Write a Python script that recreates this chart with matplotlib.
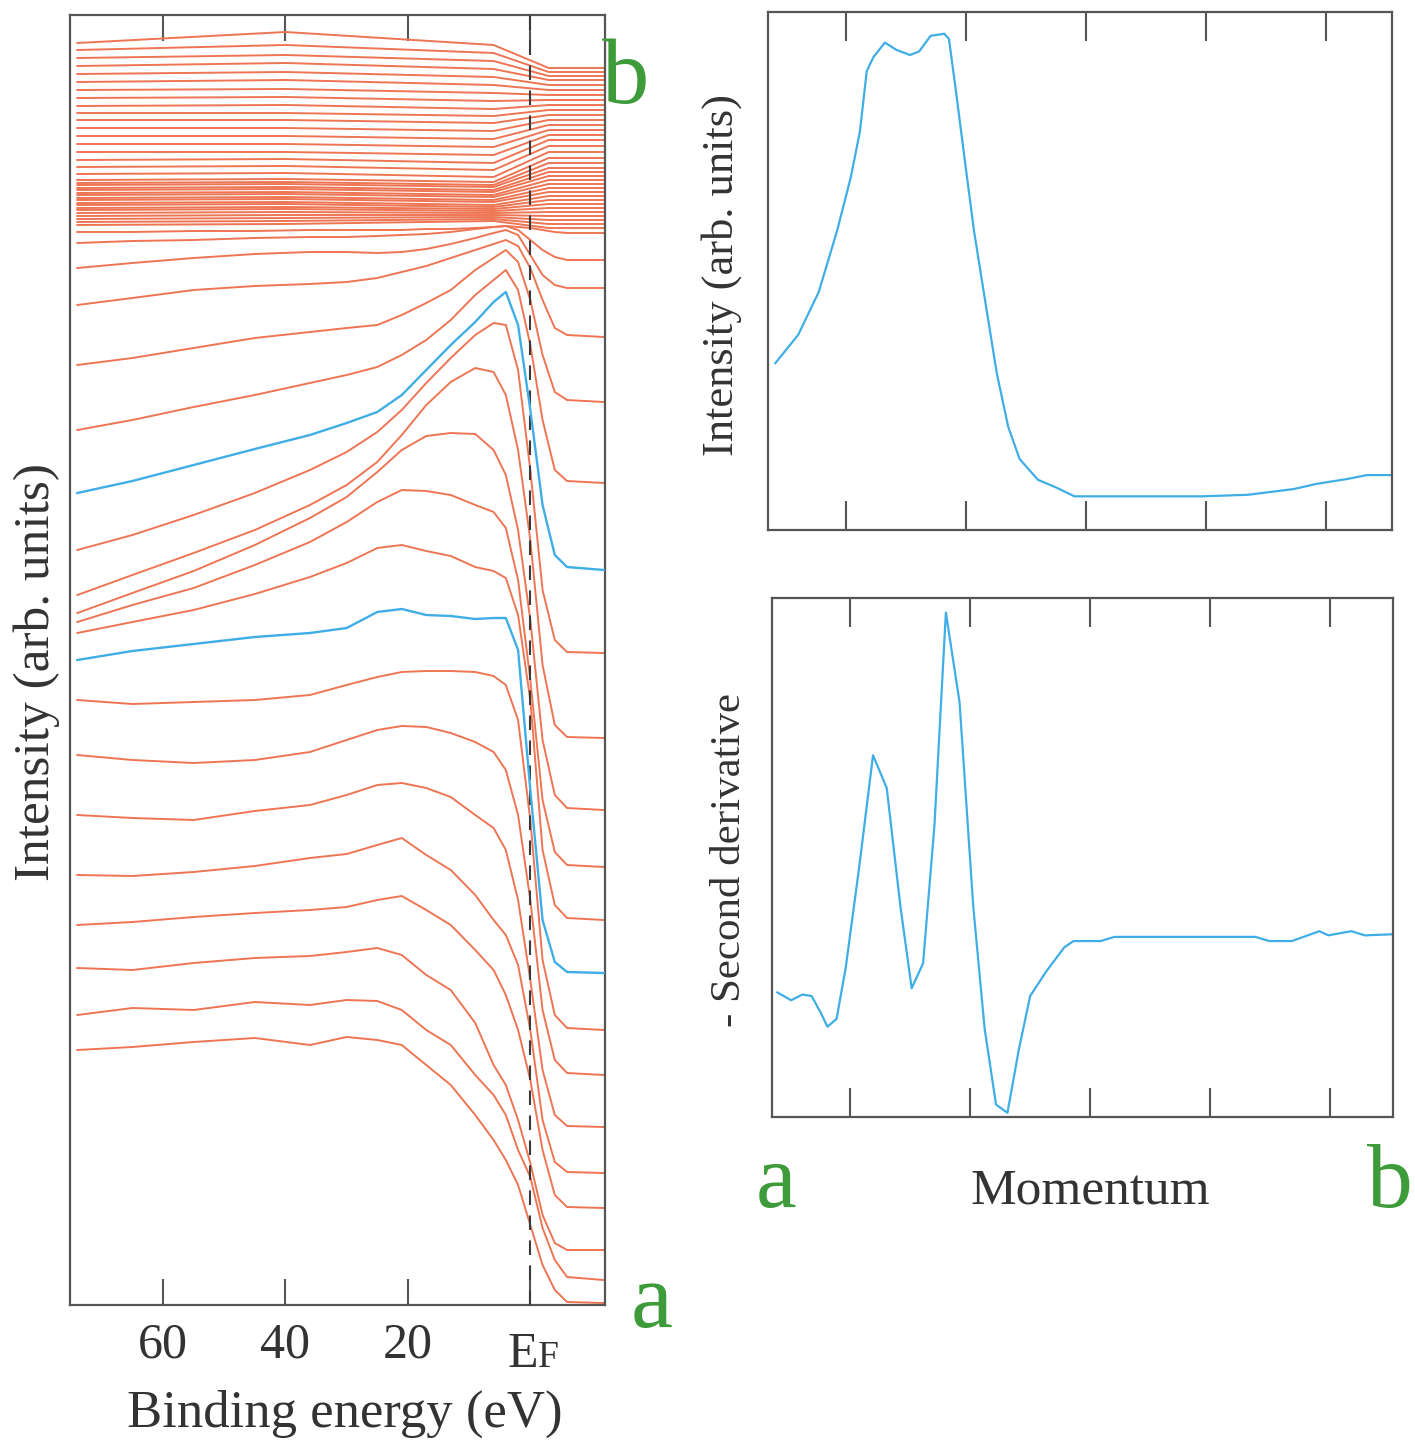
import matplotlib.pyplot as plt

plt.rcParams['font.family'] = ['Liberation Serif', 'DejaVu Serif']

RED = '#ee7553'
BLUE = '#40aee6'
GREEN = '#3e9b3a'
AXC = '#555555'
TXT = '#333333'

# --- left panel: energy distribution curves ---
energy = [74, 65, 55, 45, 36, 30, 25, 21, 17, 13, 9, 6, 4, 2, 0, -2, -4, -6, -12]

edc_01 = [25.5, 25.8, 26.3, 26.7, 26.0, 26.8, 26.5, 26.0, 24.0, 22.0, 19.0, 16.5, 14.5, 12.0, 8.0, 4.0, 1.5, 0.3, 0.2]
edc_02 = [29.0, 29.7, 29.5, 30.3, 30.0, 30.5, 30.4, 29.5, 27.5, 26.0, 23.0, 21.0, 19.0, 15.5, 12.8, 7.7, 4.5, 2.8, 2.5]
edc_03 = [33.7, 33.5, 34.2, 34.7, 34.9, 35.3, 35.7, 35.0, 33.0, 31.5, 28.2, 24.0, 22.0, 18.5, 14.2, 9.0, 6.2, 5.5, 5.5]
edc_04 = [38.0, 38.3, 38.8, 39.2, 39.5, 39.8, 40.5, 40.9, 39.5, 38.0, 35.5, 33.5, 31.0, 27.5, 22.5, 15.5, 11.0, 9.8, 9.7]
edc_05 = [43.0, 42.9, 43.3, 43.9, 44.7, 45.1, 46.0, 46.7, 45.0, 43.5, 41.0, 38.5, 37.0, 34.0, 27.5, 18.5, 14.3, 13.3, 13.2]
edc_06 = [49.0, 48.7, 48.5, 49.4, 50.0, 51.0, 52.0, 52.2, 51.7, 50.8, 49.0, 47.7, 45.5, 40.5, 32.5, 23.5, 19.0, 17.9, 17.8]
edc_07 = [55.0, 54.5, 54.2, 54.5, 55.3, 56.5, 57.5, 57.9, 57.8, 57.2, 56.3, 55.3, 53.5, 49.0, 40.5, 29.5, 24.5, 23.2, 23.0]
edc_08 = [60.5, 60.1, 60.3, 60.5, 61.0, 62.0, 62.8, 63.3, 63.4, 63.4, 63.3, 62.9, 62.0, 58.5, 48.5, 34.5, 29.0, 27.7, 27.5]
edc_blue_a = [64.5, 65.4, 66.1, 66.8, 67.2, 67.7, 69.3, 69.6, 69.0, 68.9, 68.6, 68.7, 68.7, 65.5, 51.5, 38.5, 34.3, 33.3, 33.2]
edc_09 = [67.2, 68.3, 69.5, 71.1, 72.8, 74.2, 75.7, 76.0, 75.4, 74.9, 73.8, 73.4, 72.7, 69.0, 60.5, 45.5, 40.0, 38.7, 38.5]
edc_10 = [68.3, 70.0, 71.7, 74.0, 76.3, 78.3, 80.3, 81.5, 81.4, 81.0, 80.0, 79.3, 77.7, 72.5, 62.5, 50.5, 45.3, 44.0, 43.8]
edc_11 = [69.2, 71.2, 73.4, 76.0, 78.7, 80.8, 83.3, 85.5, 86.9, 87.2, 87.1, 85.5, 83.0, 77.5, 68.5, 56.5, 51.0, 49.7, 49.5]
edc_12 = [71.0, 73.0, 75.2, 77.5, 80.0, 82.0, 84.3, 87.0, 90.0, 92.3, 93.7, 93.3, 91.0, 85.5, 76.5, 64.0, 58.0, 56.8, 56.7]
edc_13 = [75.5, 77.0, 79.0, 81.2, 83.5, 85.3, 87.3, 89.5, 92.2, 94.7, 97.0, 98.2, 98.0, 93.5, 83.5, 71.5, 66.5, 65.3, 65.2]
edc_blue_b = [81.2, 82.4, 84.0, 85.6, 87.0, 88.2, 89.3, 91.0, 93.5, 96.0, 98.3, 100.3, 101.3, 98.0, 89.5, 80.0, 75.0, 73.8, 73.5]
edc_14 = [87.5, 88.5, 89.8, 91.0, 92.2, 93.0, 93.8, 95.0, 96.5, 98.5, 101.0, 102.5, 103.5, 101.5, 96.0, 88.5, 83.5, 82.4, 82.2]
edc_15 = [94.0, 94.7, 95.7, 96.7, 97.3, 97.7, 98.0, 99.0, 100.2, 101.5, 103.5, 104.7, 105.5, 104.3, 100.5, 95.0, 91.3, 90.5, 90.3]
edc_16 = [100.0, 100.7, 101.5, 101.9, 102.1, 102.3, 102.7, 103.3, 103.9, 104.7, 105.5, 106.1, 106.5, 105.9, 103.7, 100.5, 97.7, 97.0, 96.8]
edc_17 = [103.7, 104.2, 104.7, 105.1, 105.3, 105.3, 105.2, 105.3, 105.6, 106.1, 106.7, 107.2, 107.5, 107.0, 105.0, 103.0, 102.0, 101.7, 101.7]
edc_18 = [106.2, 106.4, 106.5, 106.7, 106.8, 106.8, 106.9, 107.0, 107.1, 107.3, 107.6, 107.8, 107.9, 107.5, 106.5, 105.5, 104.8, 104.5, 104.5]
edc_19 = [107.3, 107.3, 107.4, 107.4, 107.5, 107.5, 107.5, 107.5, 107.6, 107.6, 107.7, 107.8, 107.9, 107.8, 107.7, 107.5, 107.3, 107.2, 107.2]

red_edcs = [edc_01, edc_02, edc_03, edc_04, edc_05, edc_06, edc_07, edc_08,
            edc_09, edc_10, edc_11, edc_12, edc_13,
            edc_14, edc_15, edc_16, edc_17, edc_18, edc_19]
blue_edcs = [edc_blue_a, edc_blue_b]

# dense bundle near "b": level at 74 eV, 40 eV, 6 eV and past E_F
band_energy = [74, 40, 6, -3, -12]
band_left = [126.2, 125.5, 124.7, 123.9, 123.1, 122.3, 121.5, 120.7, 119.9, 119.2, 118.5, 117.7,
             116.9, 116.1, 115.3, 114.5, 113.8, 113.1, 112.5, 112.2, 112.0, 111.7, 111.5, 111.2,
             111.0, 110.7, 110.5, 110.2, 110.0, 109.7, 109.5, 109.2, 108.9, 108.6, 108.3, 108.0]
band_hump = [127.3, 126.0, 125.0, 124.2, 123.3, 122.5, 121.6, 120.8, 120.0, 119.2, 118.5, 117.7,
             116.9, 116.1, 115.3, 114.6, 113.9, 113.2, 112.6, 112.3, 112.1, 111.8, 111.6, 111.3,
             111.1, 110.8, 110.6, 110.3, 110.1, 109.8, 109.6, 109.3, 109.0, 108.7, 108.4, 108.1]
band_mid = [126.0, 125.2, 124.4, 123.6, 122.8, 122.0, 121.2, 120.4, 119.6, 118.9, 118.2, 117.4,
            116.6, 115.8, 115.0, 114.2, 113.5, 112.8, 112.3, 112.0, 111.8, 111.5, 111.3, 111.0,
            110.8, 110.5, 110.3, 110.0, 109.8, 109.6, 109.4, 109.2, 109.0, 108.8, 108.6, 108.4]
band_right = [123.7, 123.3, 122.9, 122.5, 122.0, 121.5, 121.0, 120.5, 120.0, 119.5, 119.0, 118.5,
              118.0, 117.5, 117.0, 116.5, 115.9, 115.3, 114.7, 114.2, 113.7, 113.3, 112.9, 112.5,
              112.1, 111.7, 111.3, 110.9, 110.5, 110.1, 109.7, 109.3, 108.9, 108.5, 108.1, 107.7]

energy_ticks = [60, 40, 20, 0]
energy_labels = ['60', '40', '20', '']

# --- right panels: momentum distribution curve and its second derivative ---
mom_top = [-0.589, -0.398, -0.228, -0.075, 0.039, 0.115, 0.173, 0.229, 0.324, 0.419, 0.533, 0.610,
           0.705, 0.819, 0.858, 0.914, 0.990, 1.067, 1.162, 1.257, 1.352, 1.447, 1.599, 1.752,
           1.903, 2.969, 3.350, 3.730, 3.920, 4.190, 4.340, 4.550]
mdc = [32.2, 37.7, 45.9, 57.7, 68.0, 76.8, 88.6, 91.3, 94.1, 92.7, 91.7, 92.4,
       95.4, 95.8, 94.8, 85.1, 71.4, 57.7, 43.9, 30.2, 19.9, 13.7, 9.7, 8.2,
       6.5, 6.5, 6.8, 7.9, 8.9, 9.9, 10.6, 10.6]

mom_bot = [-0.605, -0.491, -0.396, -0.320, -0.244, -0.188, -0.112, -0.036, 0.078, 0.192, 0.306,
           0.420, 0.514, 0.609, 0.704, 0.799, 0.913, 1.027, 1.122, 1.217, 1.312, 1.407, 1.501,
           1.634, 1.786, 1.862, 2.089, 2.203, 2.545, 3.380, 3.493, 3.683, 3.911, 3.987, 4.177,
           4.290, 4.518]
d2 = [24.0, 22.5, 23.6, 23.3, 20.1, 17.4, 18.9, 28.7, 48.4, 69.7, 63.4,
      40.6, 24.8, 29.6, 56.3, 97.2, 79.9, 40.6, 17.0, 2.4, 0.8, 13.0, 23.3,
      28.0, 32.7, 33.9, 33.9, 34.7, 34.7, 34.7, 33.9, 33.9, 35.8, 35.0, 35.8,
      35.0, 35.2]
mom_ticks = [0, 1, 2, 3, 4]

W, H = 1415, 1448
fig = plt.figure(figsize=(W / 100, H / 100), dpi=100)


def box(x0, y0, x1, y1):
    return [x0 / W, 1 - y1 / H, (x1 - x0) / W, (y1 - y0) / H]


def style(ax):
    for s in ax.spines.values():
        s.set_color(AXC)
        s.set_linewidth(1.6)
    ax.set_yticks([])


# left panel
ax = fig.add_axes(box(70, 15, 605, 1305))
for vals in red_edcs:
    ax.plot(energy, vals, color=RED, lw=1.4, zorder=2)
for L, Hm, M, R in zip(band_left, band_hump, band_mid, band_right):
    ax.plot(band_energy, [L, Hm, M, R, R], color=RED, lw=1.4, zorder=2)
for vals in blue_edcs:
    ax.plot(energy, vals, color=BLUE, lw=1.7, zorder=4)
ax.axvline(0, color='#3a3a3a', lw=1.5, ls=(0, (7, 5)), zorder=3)
ax.set_xlim(75.2, -12.2)
ax.set_ylim(0, 129)
ax.set_xticks(energy_ticks)
ax.set_xticklabels(energy_labels)
ax.tick_params(axis='x', direction='in', length=19, width=1.5, top=True,
               color=AXC, labelcolor=TXT, labelsize=36, pad=12)
style(ax)

fig.text(538 / W, 1 - 1367 / H, 'E', ha='right', va='baseline', fontsize=36, color=TXT)
fig.text(538 / W, 1 - 1367 / H, 'F', ha='left', va='baseline', fontsize=27, color=TXT)
fig.text(345 / W, 1 - 1427 / H, 'Binding energy (eV)', ha='center', va='baseline',
         fontsize=38, color=TXT)
fig.text(37 / W, 1 - 672 / H, 'Intensity (arb. units)', rotation=90, ha='center',
         va='center', fontsize=37, color=TXT)
fig.text(626 / W, 1 - 103 / H, 'b', ha='center', va='baseline', fontsize=68, color=GREEN)
fig.text(652 / W, 1 - 1327 / H, 'a', ha='center', va='baseline', fontsize=68, color=GREEN)

# right top panel
axt = fig.add_axes(box(768, 12, 1392, 530))
axt.plot(mom_top, mdc, color=BLUE, lw=1.6)
axt.set_xlim(-0.65, 4.55)
axt.set_ylim(0, 100)
axt.set_xticks(mom_ticks)
axt.set_xticklabels([])
axt.tick_params(axis='x', direction='in', length=21, width=1.5, top=True, color=AXC)
style(axt)

# right bottom panel
axb = fig.add_axes(box(772, 598, 1393, 1117))
axb.plot(mom_bot, d2, color=BLUE, lw=1.6)
axb.set_xlim(-0.65, 4.525)
axb.set_ylim(0, 100)
axb.set_xticks(mom_ticks)
axb.set_xticklabels([])
axb.tick_params(axis='x', direction='in', length=21, width=1.5, top=True, color=AXC)
style(axb)

fig.text(722 / W, 1 - 275 / H, 'Intensity (arb. units)', rotation=90, ha='center',
         va='center', fontsize=32, color=TXT)
fig.text(730 / W, 1 - 860 / H, '- Second derivative', rotation=90, ha='center',
         va='center', fontsize=31, color=TXT)
fig.text(1090 / W, 1 - 1204 / H, 'Momentum', ha='center', va='baseline', fontsize=37, color=TXT)
fig.text(776 / W, 1 - 1207 / H, 'a', ha='center', va='baseline', fontsize=66, color=GREEN)
fig.text(1390 / W, 1 - 1207 / H, 'b', ha='center', va='baseline', fontsize=66, color=GREEN)

fig.savefig('out.png', dpi=100)
